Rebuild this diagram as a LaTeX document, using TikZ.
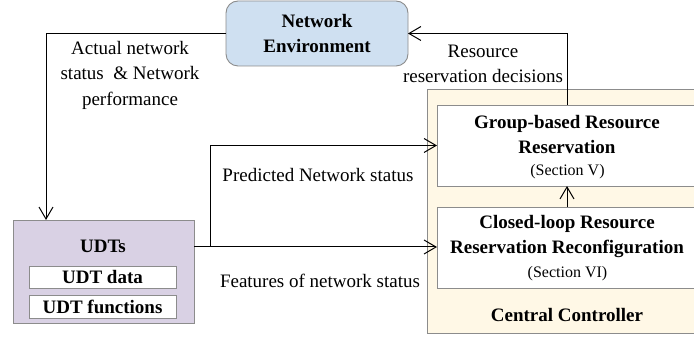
\documentclass[tikz,border=0pt]{standalone}
\usepackage{fontspec}
\setmainfont{Liberation Serif}
\usetikzlibrary{arrows.meta}
\definecolor{neblue}{HTML}{CFE0F1}
\definecolor{udtpurple}{HTML}{D9D1E4}
\definecolor{cccream}{HTML}{FFF8E6}
\definecolor{boxgray}{HTML}{8C8C8C}
\tikzset{
  box/.style={draw=boxgray, line width=0.9pt, inner sep=0pt, outer sep=0pt},
  txt/.style={inner sep=0pt, align=center, font=\fontsize{19}{25.5}\selectfont},
  btxt/.style={txt, font=\fontsize{19}{25}\selectfont\bfseries},
  stxt/.style={inner sep=0pt, font=\fontsize{16}{18}\selectfont},
  arr/.style={line width=1pt, -{Straight Barb[length=12pt,width=14pt]}},
  ln/.style={line width=1pt},
}
\begin{document}
\begin{tikzpicture}[x=1pt,y=-1pt]
\useasboundingbox (0,0) rectangle (694,344);
% Network environment
\node[box, fill=neblue, rounded corners=12pt, minimum width=182pt, minimum height=65pt] (ne) at (317,33.5) {};
\node[btxt] (netxt) at (317,34) {Network\\Environment};
% UDTs
\node[box, fill=udtpurple, minimum width=181pt, minimum height=103pt] (udt) at (103.5,271.5) {};
\node[btxt] (udttitle) at (103,246) {UDTs};
\node[box, fill=white, minimum width=147pt, minimum height=22pt, btxt] (udtdata) at (102.5,277) {UDT data};
\node[box, fill=white, minimum width=147pt, minimum height=23pt, btxt] (udtfun) at (102.5,306.5) {UDT functions};
% Central controller
\node[box, fill=cccream, minimum width=280pt, minimum height=244pt] (cc) at (567,211) {};
\node[btxt] (cctxt) at (567,315.5) {Central Controller};
\node[box, fill=white, minimum width=260pt, minimum height=81pt] (gb) at (567,145.5) {};
\node[btxt] (gbtxt) at (567,135) {Group-based Resource\\Reservation};
\node[stxt] (gbsec) at (567.5,172) {(Section V)};
\node[box, fill=white, minimum width=260pt, minimum height=81pt] (cl) at (567,247.5) {};
\node[btxt] (cltxt) at (567,237) {Closed-loop Resource\\Reservation Reconfiguration};
\node[stxt] (clsec) at (567.5,274) {(Section VI)};
% labels
\node[txt] (lab1) at (130,75) {Actual network\\status~~\& Network\\performance};
\node[txt] (lab2) at (483,64) {Resource\\reservation decisions};
\node[txt] (lab3) at (318,175) {Predicted Network status};
\node[txt] (lab4) at (320,280.5) {Features of network status};
% connectors
\coordinate (udtin) at ([xshift=33pt]udt.north west);
\coordinate (udtout) at ([yshift=24.5pt]udt.east);
\coordinate (branch) at (210,247);
\draw[arr] (ne.west) -| (udtin);
\draw[arr] (udtout) -- (udtout -| cl.west);
\draw[arr] (branch) |- (gb.west);
\draw[arr] (cl.north) -- (gb.south);
\draw[arr] (gb.north) |- (ne.east);
\end{tikzpicture}
\end{document}
